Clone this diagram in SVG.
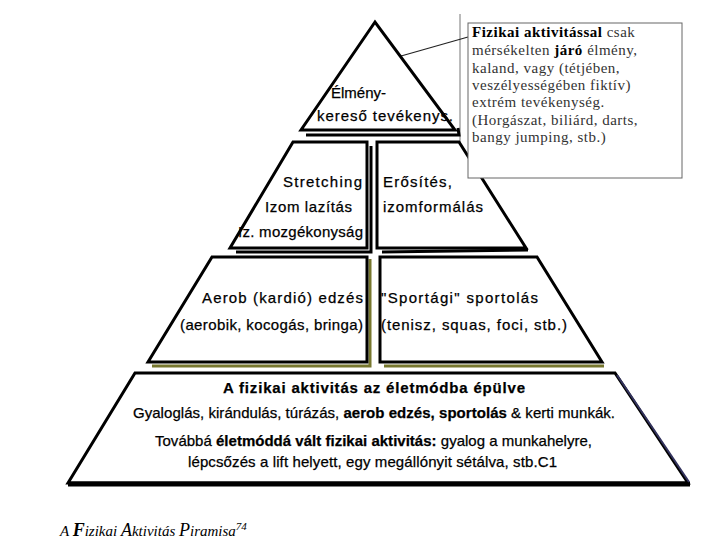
<svg xmlns="http://www.w3.org/2000/svg" width="720" height="540" viewBox="0 0 720 540">
<style>
.t{font-family:"Liberation Sans","DejaVu Sans",sans-serif;font-size:15px;fill:#000;stroke:#000;stroke-width:0.25}
.b{font-weight:bold}
.c{font-family:"Liberation Serif","DejaVu Serif",serif;font-size:15px;letter-spacing:0.5px;fill:#333}
.tier{fill:#fff;stroke:#000;stroke-width:3;stroke-linejoin:miter}
.sh{fill:none;stroke:#000;stroke-width:3}
.ol{fill:none;stroke:#77772e;stroke-width:3}
</style>
<rect width="720" height="540" fill="#fff"/>
<g id="connectors">
<line x1="460" y1="14" x2="460" y2="160" stroke="#777" stroke-width="1"/>
<line x1="387" y1="60" x2="468" y2="37" stroke="#222" stroke-width="1.2"/>
</g>
<g id="tier1">
<polyline class="sh" points="458,128 459,135 306,135"/>
<polygon class="tier" points="375,22 301,130 455,130"/>
<text class="t" x="331" y="98">Élmény-</text>
<text class="t" x="317" y="121" textLength="136">kereső tevékenys.</text>
</g>
<g id="tier2-left">
<polyline class="sh" points="371,146 371,252 236,252"/>
<polygon class="tier" points="293,142 367,142 367,248 230,248"/>
<text class="t" x="362" y="187" text-anchor="end" textLength="79">Stretching</text>
<text class="t" x="352" y="212" text-anchor="end" textLength="87">Izom lazítás</text>
<text class="t" x="363" y="237" text-anchor="end" textLength="125">Iz. mozgékonyság</text>
</g>
<g id="tier2-right">
<polyline class="sh" points="528,250 382,252"/>
<polygon class="tier" points="377,142 459,142 526,248 377,248"/>
<text class="t" x="383" y="187" textLength="69">Erősítés,</text>
<text class="t" x="383" y="212" textLength="100">izomformálás</text>
</g>
<g id="tier3-left">
<polyline class="ol" points="370,259 370,366 152,366"/>
<polygon class="tier" points="212,257 367,257 367,362 148,362"/>
<text class="t" x="363" y="303" text-anchor="end" textLength="161">Aerob (kardió) edzés</text>
<text class="t" x="363" y="330" text-anchor="end" textLength="183">(aerobik, kocogás, bringa)</text>
</g>
<g id="tier3-right">
<polyline class="ol" points="604,366 384,366"/>
<polygon class="tier" points="380,257 537,257 602,362 380,362"/>
<text class="t" x="381" y="303" textLength="157">"Sportági" sportolás</text>
<text class="t" x="381" y="330" textLength="186">(tenisz, squas, foci, stb.)</text>
</g>
<g id="tier4">
<polygon class="tier" points="135,373 615,373 688,483 68,483"/>
<line x1="68" y1="484" x2="690" y2="484" stroke="#000" stroke-width="5"/>
<line x1="617" y1="375" x2="689" y2="482" stroke="#33335e" stroke-width="2"/>
<text class="t b" x="374" y="393" text-anchor="middle" textLength="302">A fizikai aktivitás az életmódba épülve</text>
<text class="t" x="133" y="418" textLength="482">Gyaloglás, kirándulás, túrázás, <tspan class="b">aerob edzés, sportolás</tspan> &amp; kerti munkák.</text>
<text class="t" x="155" y="446" textLength="437">Továbbá <tspan class="b">életmóddá vált fizikai aktivitás:</tspan> gyalog a munkahelyre,</text>
<text class="t" x="188" y="467" textLength="369">lépcsőzés a lift helyett, egy megállónyit sétálva, stb.C1</text>
</g>
<g id="callout">
<rect x="468" y="23" width="214" height="155" fill="#fff" stroke="#666" stroke-width="1"/>
<text class="c" x="472" y="37"><tspan font-weight="bold" fill="#000">Fizikai aktivitással</tspan> csak</text>
<text class="c" x="472" y="55">mérsékelten <tspan font-weight="bold" fill="#000">járó</tspan> élmény,</text>
<text class="c" x="472" y="73">kaland, vagy (tétjében,</text>
<text class="c" x="472" y="90">veszélyességében fiktív)</text>
<text class="c" x="472" y="107">extrém tevékenység.</text>
<text class="c" x="472" y="125">(Horgászat, biliárd, darts,</text>
<text class="c" x="472" y="142">bangy jumping, stb.)</text>
</g>
<g id="caption">
<text x="60" y="536" font-family="Liberation Serif, serif" font-style="italic" font-size="15" fill="#000">A <tspan font-weight="bold" font-size="18">F</tspan>izikai <tspan font-size="18">A</tspan>ktivitás <tspan font-size="18">P</tspan>iramisa<tspan font-size="11" dy="-6">74</tspan></text>
</g>
</svg>
